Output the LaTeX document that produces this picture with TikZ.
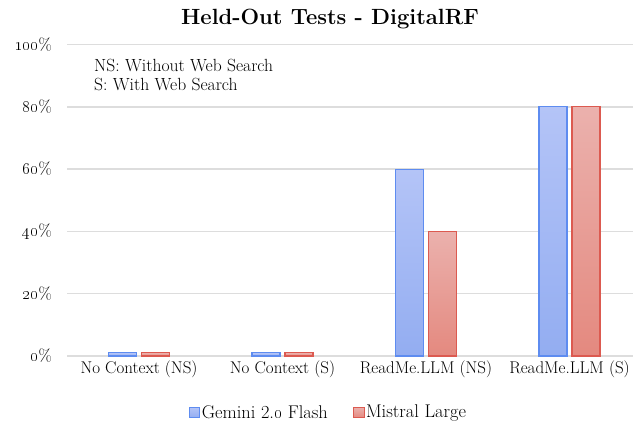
\documentclass[tikz,border=0pt]{standalone}
\usepackage{tikz}
\usetikzlibrary{positioning}

\definecolor{gridgray}{HTML}{DDDDDD}
\definecolor{gemline}{HTML}{5E8CF0}
\definecolor{gemtop}{HTML}{B4C4F7}
\definecolor{gembot}{HTML}{93ADF1}
\definecolor{misline}{HTML}{DC5A50}
\definecolor{mistop}{HTML}{EBB1AD}
\definecolor{misbot}{HTML}{E4897F}

\tikzset{
  gridline/.style={draw=gridgray, line width=1.5pt},
  gembar/.style={draw=gemline, line width=1.1pt, top color=gemtop, bottom color=gembot},
  misbar/.style={draw=misline, line width=1.1pt, top color=mistop, bottom color=misbot},
  legendkey/.style={minimum size=10.5pt, inner sep=0pt, line width=0.8pt}
}

\begin{document}
\begin{tikzpicture}[x=1pt, y=1pt, font=\fontsize{17}{20}\selectfont]
  \useasboundingbox (0,0) rectangle (633,423);

  % Title
  \node[anchor=base, font=\bfseries\fontsize{22}{26}\selectfont] (title) at (330,398) {Held-Out Tests - DigitalRF};

  % Grid and percent ticks
  \foreach \p in {0,20,40,60,80,100} {
    \draw[gridline] (67,67+3.115*\p) -- (633,67+3.115*\p);
    \node[anchor=east, inner sep=0pt] (tick\p) at (52,67+3.115*\p) {\oldstylenums{\p}\%};
  }

  % Note
  \node[anchor=base west, inner sep=0pt, font=\fontsize{17.6}{20}\selectfont] (nsnote) at (94,351) {NS: Without Web Search};
  \node[anchor=base west, inner sep=0pt, font=\fontsize{17.6}{20}\selectfont] (snote) at (94,332) {S: With Web Search};

  % Bars
  \foreach \c/\g/\m/\lbl in {0/1/1/No Context (NS), 1/1/1/No Context (S),
                            2/60/40/ReadMe.LLM (NS), 3/80/80/ReadMe.LLM (S)} {
    \pgfmathsetmacro{\cx}{139+143.5*\c}
    \draw[gembar] (\cx-30.5,67) rectangle (\cx-2.5,67+3.115*\g);
    \draw[misbar] (\cx+2.5,67) rectangle (\cx+30.5,67+3.115*\m);
    \node[anchor=base] (cat\c) at (\cx,49.3) {\lbl};
  }

  % Legend
  \node[legendkey, draw=gemline, top color=gemtop, bottom color=gembot] (gemkey) at (194.5,10.5) {};
  \node[right=1.5pt of gemkey, inner sep=0pt, font=\fontsize{18.4}{20}\selectfont] (gemtext) {Gemini 2.\oldstylenums{0} Flash};
  \node[legendkey, draw=misline, top color=mistop, bottom color=misbot, right=25pt of gemtext] (miskey) {};
  \node[right=1.5pt of miskey, inner sep=0pt, font=\fontsize{18.4}{20}\selectfont] (mistext) {Mistral Large};
\end{tikzpicture}
\end{document}
